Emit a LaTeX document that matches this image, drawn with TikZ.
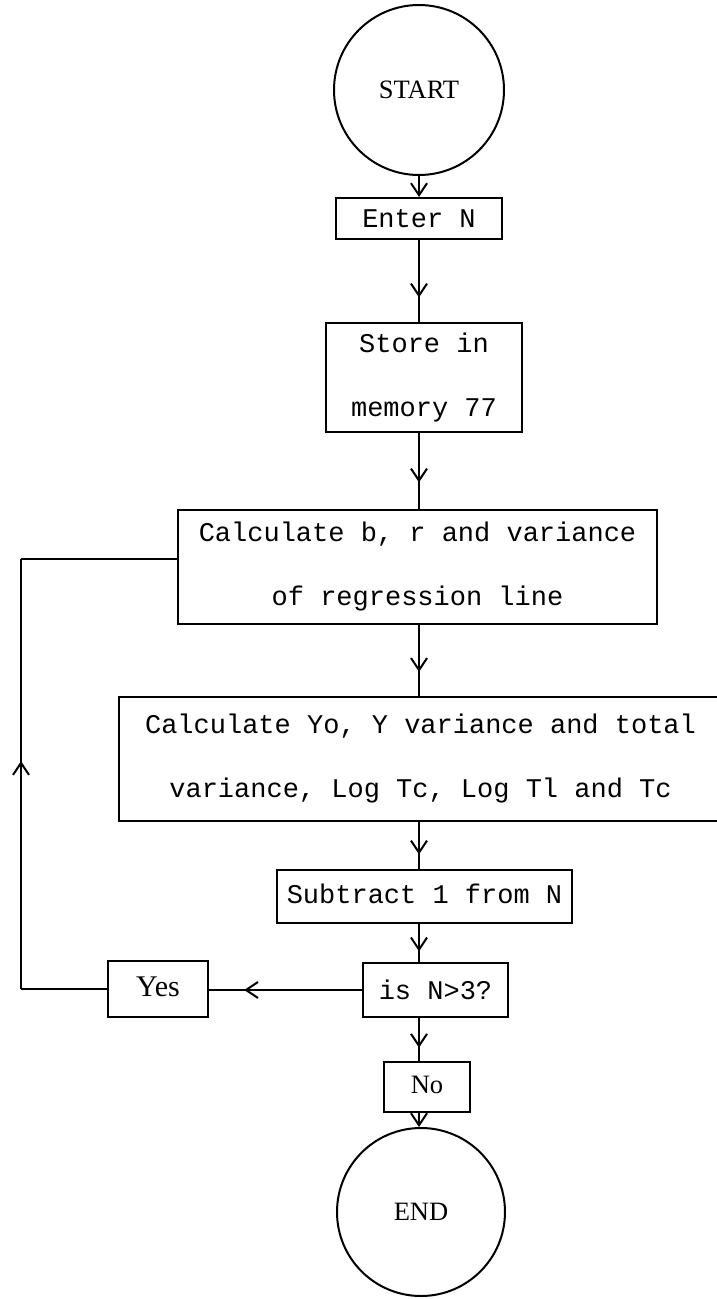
\documentclass[tikz,border=0pt]{standalone}
\usepackage{fontspec}
\setmainfont{Liberation Serif}
\setmonofont{Liberation Mono}
\usetikzlibrary{arrows.meta,decorations.markings,calc}
\tikzset{
  box/.style={draw, rectangle, line width=2pt, inner sep=0pt,
    font=\ttfamily\fontsize{27}{64}\selectfont, align=center},
  serifbox/.style={box, font=\rmfamily\fontsize{30}{34}\selectfont},
  term/.style={draw, circle, line width=2pt, inner sep=0pt,
    font=\rmfamily\fontsize{26.5}{30}\selectfont},
  conn/.style={line width=2pt},
  endtip/.style={-{Straight Barb[length=12pt,width=16pt]}},
  midarrow/.style={postaction={decorate},
    decoration={markings, mark=at position #1 with {\arrow{Straight Barb[length=12pt,width=16pt]}}}}
}
\begin{document}
\begin{tikzpicture}[x=1pt,y=-1pt]
\useasboundingbox (0,0) rectangle (717,1299);
\coordinate (ax) at (419,0);

\node[term, minimum size=170pt] (start) at (419,90) {START};
\node[box, minimum width=166pt, minimum height=41pt] (enter) at (419,218.5) {Enter N};
\node[box, minimum width=196pt, minimum height=109pt] (store) at (424,377.5) {Store in\\memory 77};
\node[box, minimum width=479pt, minimum height=114pt] (calcb) at (417.5,567) {Calculate b, r and variance\\of regression line};
\node[box, minimum width=603pt, minimum height=124pt] (calcy) at (420.5,759) {Calculate Yo, Y variance and total\\variance, Log Tc, Log Tl and Tc};
\node[box, minimum width=295pt, minimum height=53pt] (sub) at (424.5,896.5) {\raisebox{5pt}{Subtract 1 from N}};
\node[box, minimum width=145pt, minimum height=54pt] (isn) at (435.5,990) {is N>3?};
\node[serifbox, minimum width=100pt, minimum height=56pt] (yes) at (158,989) {\raisebox{5pt}{Yes}};
\node[serifbox, minimum width=86pt, minimum height=50pt, font=\rmfamily\fontsize{26.5}{30}\selectfont] (no) at (427,1087) {\raisebox{4pt}{No}};
\node[term, minimum size=168pt] (endc) at (421,1212) {END};

\coordinate (lb) at (21,989);
\coordinate (lt) at (21,559);

\draw[conn, endtip] (start.south) -- (enter.north);
\draw[conn, midarrow=0.70] (enter.south) -- (ax |- store.north);
\draw[conn, midarrow=0.65] (ax |- store.south) -- (ax |- calcb.north);
\draw[conn, midarrow=0.66] (ax |- calcb.south) -- (ax |- calcy.north);
\draw[conn, midarrow=0.69] (ax |- calcy.south) -- (ax |- sub.north);
\draw[conn, midarrow=0.72] (ax |- sub.south) -- (ax |- isn.north);
\draw[conn, midarrow=0.69] (ax |- isn.south) -- (ax |- no.north);
\draw[conn, endtip] (ax |- no.south) -- (ax |- endc.north);

\draw[conn, midarrow=0.77] (isn.west) -- (yes.east |- isn.west);
\draw[conn] (yes.west) -- (lb);
\draw[conn, midarrow=0.53] (lb) -- (lt);
\draw[conn] (lt) -- (lt -| calcb.west);
\end{tikzpicture}
\end{document}
